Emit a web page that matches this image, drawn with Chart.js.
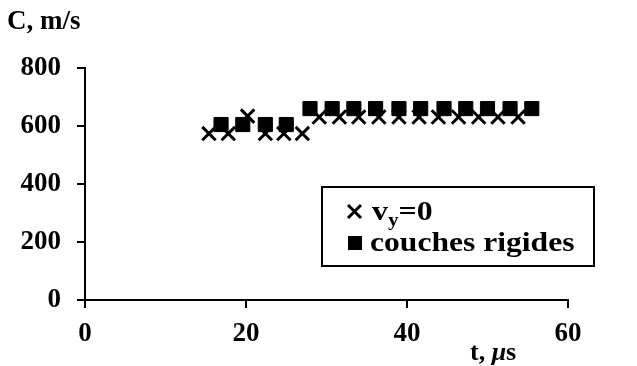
<!DOCTYPE html>
<html>
<head>
<meta charset="utf-8">
<script src="https://cdn.jsdelivr.net/npm/chart.js@4/dist/chart.umd.min.js"></script>
<style>
  html, body { margin: 0; padding: 0; background: #fff; }
  #wrap { width: 637px; height: 366px; }
</style>
</head>
<body>
<div id="wrap"><canvas id="myChart" width="637" height="366"></canvas></div>
<script>
// data
const crossT = [15.4, 17.8, 20.2, 22.4, 24.7, 27.0,
  29.1, 31.6, 34.0, 36.5, 39.0, 41.5, 43.9, 46.4, 48.9, 51.3, 53.8];
const crossC = [574, 574, 634, 574, 574, 574,
  631, 631, 631, 631, 631, 631, 631, 631, 631, 631, 631];
const squareT = [16.9, 19.6, 22.4, 25.0,
  27.95, 30.7, 33.4, 36.1, 39.0, 41.7, 44.6, 47.3, 50.0, 52.8, 55.5];
const squareC = [605, 605, 605, 605,
  660, 660, 660, 660, 660, 660, 660, 660, 660, 660, 660];
const xTicks = [0, 20, 40, 60];
const yTicks = [0, 200, 400, 600, 800];
const yTitle = 'C, m/s';
const seriesNames = ['vy=0', 'couches rigides'];

const serif = '"Liberation Serif", "Times New Roman", serif';

function toPoints(xs, ys) {
  return xs.map((x, i) => ({ x: x, y: ys[i] }));
}

// titles and the boxed legend are drawn on top of the chart
const textPlugin = {
  id: 'texts',
  afterDraw(chart) {
    const ctx = chart.ctx;
    ctx.save();
    ctx.fillStyle = '#000';
    ctx.strokeStyle = '#000';
    ctx.textBaseline = 'alphabetic';

    ctx.font = 'bold 27px ' + serif;
    ctx.fillText(yTitle, 7, 29);

    // x axis title: t, µs
    ctx.font = 'bold 26px ' + serif;
    ctx.fillText('t,', 470, 360);
    let w = ctx.measureText('t, ').width;
    ctx.font = 'bold italic 26px ' + serif;
    ctx.fillText('\u03bc', 470 + w, 360);
    w += ctx.measureText('\u03bc').width;
    ctx.font = 'bold 26px ' + serif;
    ctx.fillText('s', 470 + w, 360);

    // legend
    ctx.lineWidth = 2;
    ctx.strokeRect(322, 187, 272, 79);

    // cross marker
    ctx.lineWidth = 3;
    ctx.beginPath();
    ctx.moveTo(348, 205); ctx.lineTo(361, 218);
    ctx.moveTo(361, 205); ctx.lineTo(348, 218);
    ctx.stroke();
    // square marker
    ctx.fillRect(348, 236, 14, 14);

    ctx.save();
    ctx.translate(372, 220);
    ctx.scale(1.18, 1);
    ctx.font = 'bold 27px ' + serif;
    ctx.fillText('v', 0, 0);
    let x = ctx.measureText('v').width;
    ctx.font = 'bold 18px ' + serif;
    ctx.fillText('y', x, 6);
    x += ctx.measureText('y').width;
    ctx.font = 'bold 27px ' + serif;
    ctx.fillText('=0', x, 0);
    ctx.restore();

    ctx.translate(370, 251);
    ctx.scale(1.17, 1);
    ctx.font = 'bold 27px ' + serif;
    ctx.fillText(seriesNames[1], 0, 0);
    ctx.restore();
  }
};

const axisFont = { family: serif, size: 27, weight: 'bold' };

new Chart(document.getElementById('myChart'), {
  type: 'scatter',
  data: {
    datasets: [
      {
        label: seriesNames[0],
        data: toPoints(crossT, crossC),
        pointStyle: 'crossRot',
        pointRadius: 9.5,
        borderColor: '#000',
        borderWidth: 3,
        backgroundColor: '#000',
      },
      {
        label: seriesNames[1],
        data: toPoints(squareT, squareC),
        pointStyle: 'rect',
        pointRadius: 10,
        borderColor: '#000',
        borderWidth: 1,
        backgroundColor: '#000',
      },
    ]
  },
  options: {
    responsive: false,
    animation: false,
    devicePixelRatio: 1,
    layout: { padding: { top: 68, right: 69, left: 0, bottom: 0 } },
    plugins: {
      legend: { display: false },
      tooltip: { enabled: false },
    },
    scales: {
      x: {
        type: 'linear',
        min: 0,
        max: 60,
        afterBuildTicks(scale) { scale.ticks = xTicks.map(v => ({ value: v })); },
        afterFit(scale) { scale.height = 66; },
        ticks: { font: axisFont, color: '#000', padding: 10, maxRotation: 0 },
        grid: { drawOnChartArea: false, drawTicks: true, tickLength: 8, color: '#000', lineWidth: 2 },
        border: { color: '#000', width: 2 },
      },
      y: {
        min: 0,
        max: 800,
        afterBuildTicks(scale) { scale.ticks = yTicks.map(v => ({ value: v })); },
        afterFit(scale) { scale.width = 85; },
        ticks: { font: axisFont, color: '#000', padding: 16 },
        grid: { drawOnChartArea: false, drawTicks: true, tickLength: 8, color: '#000', lineWidth: 2 },
        border: { color: '#000', width: 2 },
      }
    }
  },
  plugins: [textPlugin]
});
</script>
</body>
</html>
